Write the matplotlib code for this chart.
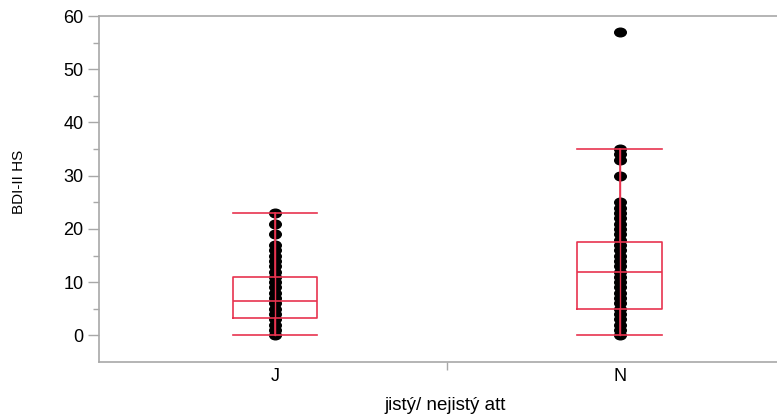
import matplotlib
matplotlib.use("Agg")
import matplotlib.pyplot as plt
from matplotlib.markers import MarkerStyle
from matplotlib.transforms import Affine2D

plt.rcParams['font.family'] = ['Liberation Sans', 'DejaVu Sans']

# categories and individual scores
groups = ["J", "N"]
j_scores = [0, 1, 2, 3, 4, 5, 6, 7, 8, 9, 10, 11, 12, 13, 14, 15, 16, 17, 19, 21, 23]
n_scores = [0, 1, 2, 3, 4, 5, 6, 7, 8, 9, 10, 11, 12, 13, 14, 15, 16, 17, 18, 19,
            20, 21, 22, 23, 24, 25, 30, 33, 34, 35, 57]

# box summaries: low whisker, Q1, median, Q3, high whisker
j_box = [0, 3.25, 6.5, 11, 23]
n_box = [0, 5, 12, 17.5, 35]

red = "#e8334f"
gray = "#a8a8a8"

fig = plt.figure(figsize=(7.77, 4.17), dpi=100)
ax = fig.add_axes([99/777, 1 - 362/417, 693/777, 346/417])

# oval dots, a bit wider than tall
dot = MarkerStyle("o", transform=Affine2D().scale(1.35, 1.0))
for i, vals in enumerate([j_scores, n_scores]):
    ax.plot([i] * len(vals), vals, linestyle="none", marker=dot,
            markersize=6.2, color="black", zorder=2)

stats = []
for name, b in zip(groups, [j_box, n_box]):
    stats.append(dict(label=name, whislo=b[0], q1=b[1], med=b[2],
                      q3=b[3], whishi=b[4], fliers=[]))
line = dict(color=red, linewidth=1.2)
ax.bxp(stats, positions=[0, 1], widths=0.245, capwidths=0.245,
       showfliers=False, boxprops=line, whiskerprops=line,
       capprops=line, medianprops=line, zorder=3)

# whisker line runs through the whole column of dots
for i, b in enumerate([j_box, n_box]):
    ax.plot([i, i], [b[0], b[4]], color=red, linewidth=1.0, zorder=3)

ax.set_xlim(-0.51, 1.5)
ax.set_ylim(-5, 60)
ax.set_yticks([0, 10, 20, 30, 40, 50, 60])
ax.set_yticks([5, 15, 25, 35, 45, 55], minor=True)
ax.set_xticks([0, 1])
ax.set_xticklabels(groups)
ax.set_xticks([0.5], minor=True)

ax.tick_params(axis="y", which="major", length=8, width=1, color=gray,
               labelsize=13, pad=3)
ax.tick_params(axis="y", which="minor", length=4, width=1, color=gray)
ax.tick_params(axis="x", which="major", length=0, labelsize=13, pad=4)
ax.tick_params(axis="x", which="minor", length=6, width=1, color=gray)

for side in ["left", "top", "bottom"]:
    ax.spines[side].set_color(gray)
    ax.spines[side].set_linewidth(1.2)
ax.spines["right"].set_visible(False)

ax.set_xlabel("jistý/ nejistý att", fontsize=13.5, labelpad=9)
ax.set_ylabel("BDI-II HS", fontsize=11)
ax.yaxis.set_label_coords(-0.105, 0.52)

fig.savefig("out.png", dpi=100)
